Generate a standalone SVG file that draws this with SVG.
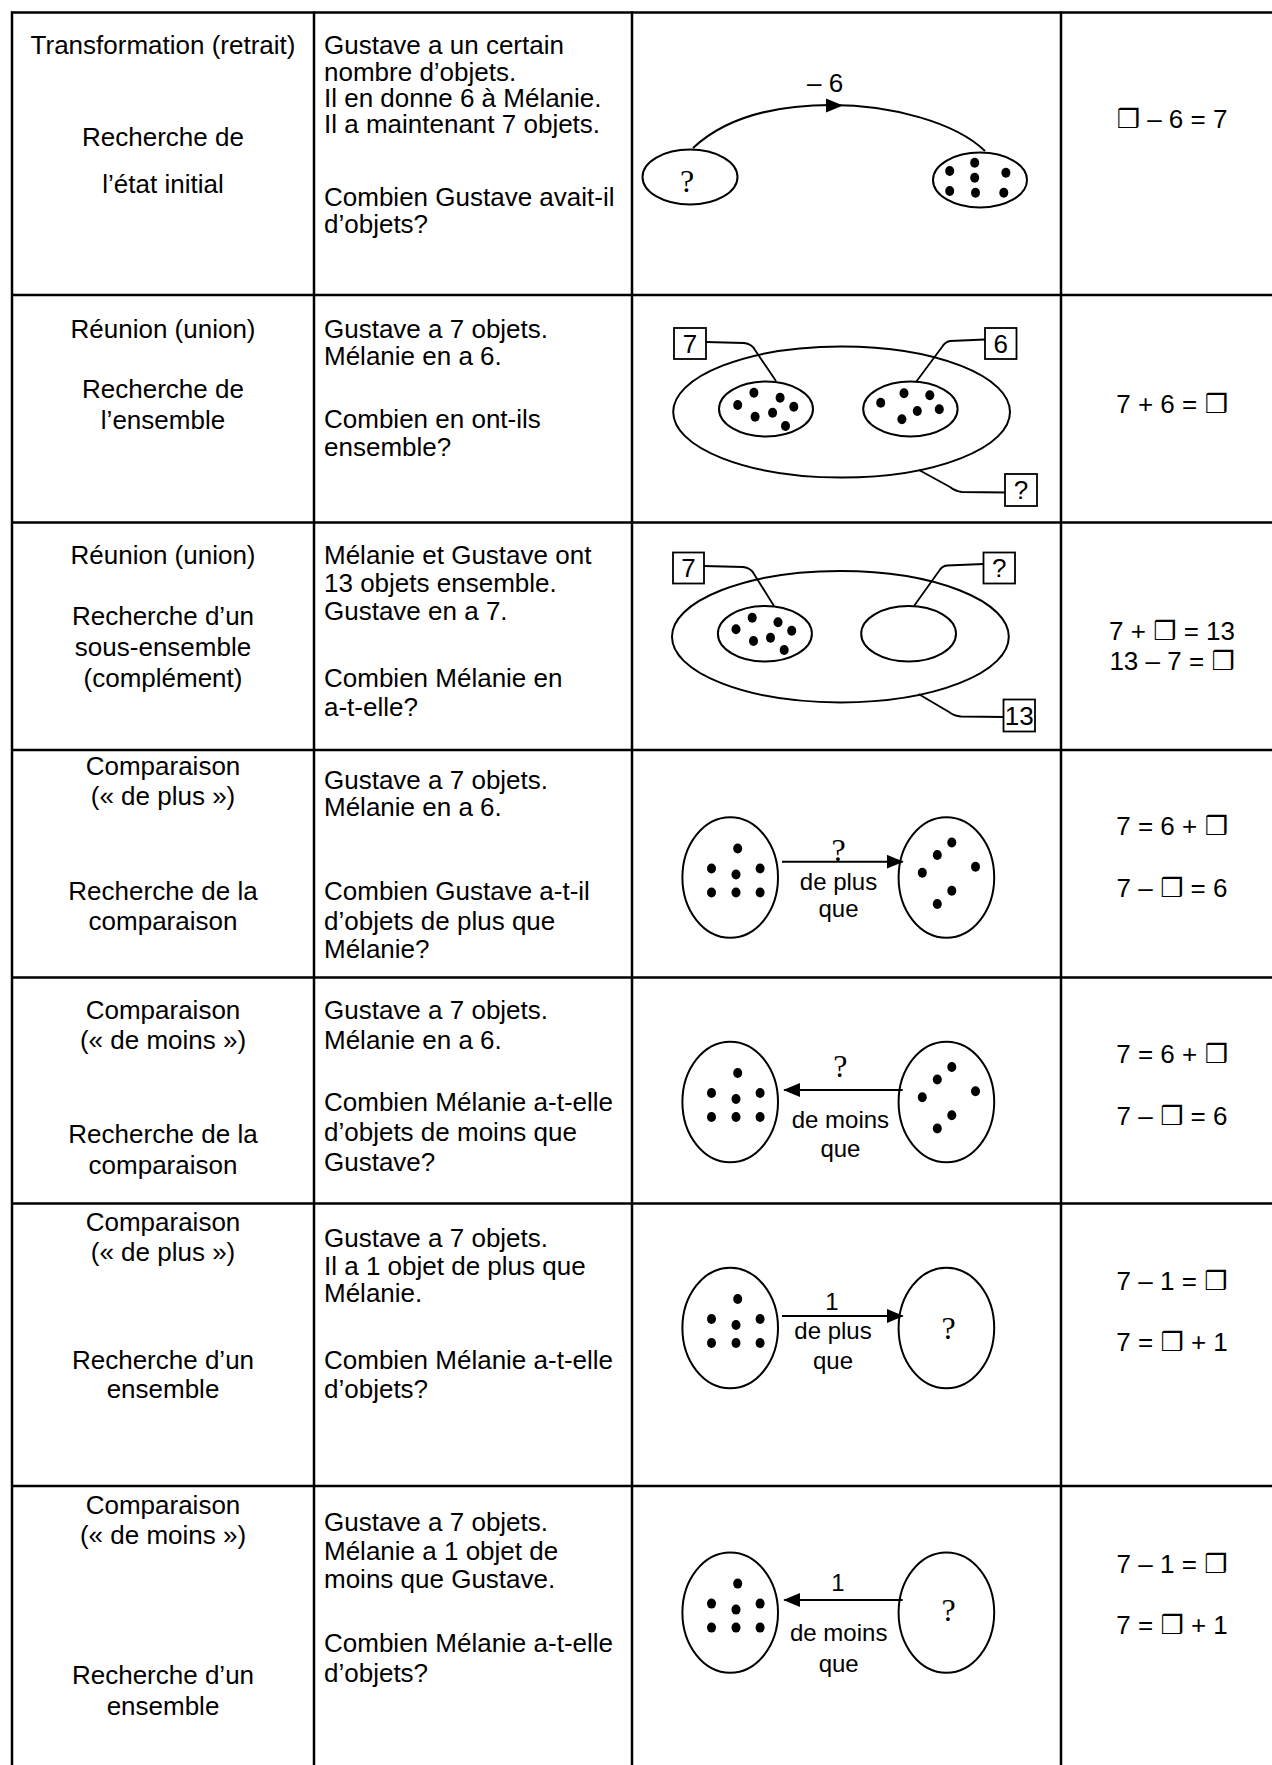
<svg xmlns="http://www.w3.org/2000/svg" width="1272" height="1765" viewBox="0 0 1272 1765">
  <style>
    .t { font-family: "Liberation Sans", Arial, sans-serif; font-size: 26px; fill: #000; }
    .c { text-anchor: middle; }
    .lbl { font-size: 24px; }
    .q { font-family: "Liberation Serif", "Times New Roman", serif; font-size: 32px; fill: #000; text-anchor: middle; }
    .bx { font-family: "DejaVu Sans", sans-serif; }
    .grid line { stroke: #000; stroke-width: 2.5; }
    .shape { fill: none; stroke: #000; stroke-width: 2; }
    .lead { fill: none; stroke: #000; stroke-width: 1.8; }
    .arrow { fill: none; stroke: #000; stroke-width: 2; marker-end: url(#head); }
    .dot { fill: #000; }
  </style>
  <defs>
    <marker id="head" markerUnits="userSpaceOnUse" markerWidth="17" markerHeight="14" refX="16" refY="7" orient="auto">
      <path d="M0,0 L17,7 L0,14 z" fill="#000"/>
    </marker>
    <!-- seven-dot set, reused in the comparison rows -->
    <g id="dots7">
      <ellipse class="dot" cx="7.5" cy="-29" rx="4.5" ry="5"/>
      <ellipse class="dot" cx="-18.7" cy="-9" rx="4.5" ry="5"/>
      <ellipse class="dot" cx="5.8" cy="-3" rx="4.5" ry="5"/>
      <ellipse class="dot" cx="29.9" cy="-9" rx="4.5" ry="5"/>
      <ellipse class="dot" cx="-18.7" cy="15" rx="4.5" ry="5"/>
      <ellipse class="dot" cx="5.8" cy="15" rx="4.5" ry="5"/>
      <ellipse class="dot" cx="29.9" cy="15" rx="4.5" ry="5"/>
    </g>
    <g id="dots6">
      <ellipse class="dot" cx="5.4" cy="-35" rx="4.5" ry="5"/>
      <ellipse class="dot" cx="-9.1" cy="-22.5" rx="4.5" ry="5"/>
      <ellipse class="dot" cx="29.1" cy="-10.8" rx="4.5" ry="5"/>
      <ellipse class="dot" cx="-24.1" cy="-4.8" rx="4.5" ry="5"/>
      <ellipse class="dot" cx="5.4" cy="13.2" rx="4.5" ry="5"/>
      <ellipse class="dot" cx="-9.1" cy="26.5" rx="4.5" ry="5"/>
    </g>
  </defs>
  <rect width="1272" height="1765" fill="#fff"/>

  <!-- table grid -->
  <g id="grid" class="grid">
    <line x1="11" y1="12.5" x2="1272" y2="12.5"/>
    <line x1="11" y1="295" x2="1272" y2="295"/>
    <line x1="11" y1="522.5" x2="1272" y2="522.5"/>
    <line x1="11" y1="750" x2="1272" y2="750"/>
    <line x1="11" y1="977.5" x2="1272" y2="977.5"/>
    <line x1="11" y1="1203.5" x2="1272" y2="1203.5"/>
    <line x1="11" y1="1486" x2="1272" y2="1486"/>
    <line x1="12" y1="11.5" x2="12" y2="1765"/>
    <line x1="314" y1="11.5" x2="314" y2="1765"/>
    <line x1="632" y1="11.5" x2="632" y2="1765"/>
    <line x1="1061" y1="11.5" x2="1061" y2="1765"/>
  </g>

  <!-- column 1: problem types -->
  <g id="types" class="t c">
    <text x="163" y="54">Transformation (retrait)</text>
    <text x="163" y="146">Recherche de</text>
    <text x="163" y="193">l’état initial</text>

    <text x="163" y="338">Réunion (union)</text>
    <text x="163" y="398">Recherche de</text>
    <text x="163" y="429">l’ensemble</text>

    <text x="163" y="564">Réunion (union)</text>
    <text x="163" y="625">Recherche d’un</text>
    <text x="163" y="656">sous-ensemble</text>
    <text x="163" y="687">(complément)</text>

    <text x="163" y="775">Comparaison</text>
    <text x="163" y="805">(« de plus »)</text>
    <text x="163" y="900">Recherche de la</text>
    <text x="163" y="930">comparaison</text>

    <text x="163" y="1019">Comparaison</text>
    <text x="163" y="1049">(« de moins »)</text>
    <text x="163" y="1143">Recherche de la</text>
    <text x="163" y="1174">comparaison</text>

    <text x="163" y="1231">Comparaison</text>
    <text x="163" y="1261">(« de plus »)</text>
    <text x="163" y="1369">Recherche d’un</text>
    <text x="163" y="1398">ensemble</text>

    <text x="163" y="1514">Comparaison</text>
    <text x="163" y="1544">(« de moins »)</text>
    <text x="163" y="1684">Recherche d’un</text>
    <text x="163" y="1715">ensemble</text>
  </g>

  <!-- column 2: word problems -->
  <g id="problems" class="t">
    <text x="324" y="54">Gustave a un certain</text>
    <text x="324" y="81">nombre d’objets.</text>
    <text x="324" y="107">Il en donne 6 à Mélanie.</text>
    <text x="324" y="133">Il a maintenant 7 objets.</text>
    <text x="324" y="206">Combien Gustave avait-il</text>
    <text x="324" y="233">d’objets?</text>

    <text x="324" y="338">Gustave a 7 objets.</text>
    <text x="324" y="365">Mélanie en a 6.</text>
    <text x="324" y="428">Combien en ont-ils</text>
    <text x="324" y="456">ensemble?</text>

    <text x="324" y="564">Mélanie et Gustave ont</text>
    <text x="324" y="592">13 objets ensemble.</text>
    <text x="324" y="620">Gustave en a 7.</text>
    <text x="324" y="687">Combien Mélanie en</text>
    <text x="324" y="716">a-t-elle?</text>

    <text x="324" y="789">Gustave a 7 objets.</text>
    <text x="324" y="816">Mélanie en a 6.</text>
    <text x="324" y="900">Combien Gustave a-t-il</text>
    <text x="324" y="930">d’objets de plus que</text>
    <text x="324" y="958">Mélanie?</text>

    <text x="324" y="1019">Gustave a 7 objets.</text>
    <text x="324" y="1049">Mélanie en a 6.</text>
    <text x="324" y="1111">Combien Mélanie a-t-elle</text>
    <text x="324" y="1141">d’objets de moins que</text>
    <text x="324" y="1171">Gustave?</text>

    <text x="324" y="1247">Gustave a 7 objets.</text>
    <text x="324" y="1275">Il a 1 objet de plus que</text>
    <text x="324" y="1302">Mélanie.</text>
    <text x="324" y="1369">Combien Mélanie a-t-elle</text>
    <text x="324" y="1398">d’objets?</text>

    <text x="324" y="1531">Gustave a 7 objets.</text>
    <text x="324" y="1560">Mélanie a 1 objet de</text>
    <text x="324" y="1588">moins que Gustave.</text>
    <text x="324" y="1652">Combien Mélanie a-t-elle</text>
    <text x="324" y="1682">d’objets?</text>
  </g>

  <!-- column 3: set diagrams -->
  <g id="diag-transformation">
    <ellipse class="shape" cx="690" cy="177" rx="47.5" ry="27.5"/>
    <text class="q" x="687" y="192">?</text>
    <ellipse class="shape" cx="980" cy="180" rx="47" ry="27.5"/>
    <ellipse class="dot" cx="949.7" cy="171" rx="4.5" ry="5"/>
    <ellipse class="dot" cx="974.7" cy="162.7" rx="4.5" ry="5"/>
    <ellipse class="dot" cx="1005.9" cy="172.7" rx="4.5" ry="5"/>
    <ellipse class="dot" cx="974.7" cy="177.7" rx="4.5" ry="5"/>
    <ellipse class="dot" cx="949.7" cy="191" rx="4.5" ry="5"/>
    <ellipse class="dot" cx="975.5" cy="192.7" rx="4.5" ry="5"/>
    <ellipse class="dot" cx="1003.8" cy="192.7" rx="4.5" ry="5"/>
    <text class="t" x="807" y="92">– 6</text>
  </g>

  <g id="diag-union-total">
    <ellipse class="shape" cx="841.6" cy="412" rx="168.4" ry="65.5"/>
    <ellipse class="shape" cx="766" cy="409" rx="47" ry="27.5"/>
    <ellipse class="shape" cx="910.4" cy="409" rx="47.2" ry="27.5"/>
    <ellipse class="dot" cx="753.9" cy="392.7" rx="4.5" ry="5"/>
    <ellipse class="dot" cx="780.1" cy="397.7" rx="4.5" ry="5"/>
    <ellipse class="dot" cx="737.7" cy="405" rx="4.5" ry="5"/>
    <ellipse class="dot" cx="793.8" cy="406.7" rx="4.5" ry="5"/>
    <ellipse class="dot" cx="772.6" cy="412.7" rx="4.5" ry="5"/>
    <ellipse class="dot" cx="755.1" cy="416.7" rx="4.5" ry="5"/>
    <ellipse class="dot" cx="785.5" cy="426" rx="4.5" ry="5"/>
    <ellipse class="dot" cx="904" cy="393.3" rx="4.5" ry="5"/>
    <ellipse class="dot" cx="929.8" cy="395.3" rx="4.5" ry="5"/>
    <ellipse class="dot" cx="880.7" cy="402.7" rx="4.5" ry="5"/>
    <ellipse class="dot" cx="917.3" cy="411" rx="4.5" ry="5"/>
    <ellipse class="dot" cx="939.3" cy="409.3" rx="4.5" ry="5"/>
    <ellipse class="dot" cx="901.9" cy="419.3" rx="4.5" ry="5"/>
    <rect class="lead" x="674" y="328" width="32" height="31"/>
    <text class="t c" x="690" y="353">7</text>
    <rect class="lead" x="985" y="328" width="31.5" height="31"/>
    <text class="t c" x="1000.7" y="353">6</text>
    <rect class="lead" x="1005" y="474" width="32" height="32"/>
    <text class="t c" x="1021" y="499">?</text>
  </g>

  <g id="diag-union-part">
    <ellipse class="shape" cx="840.4" cy="636.7" rx="168.4" ry="65.7"/>
    <ellipse class="shape" cx="764.9" cy="633.8" rx="47" ry="27.8"/>
    <ellipse class="shape" cx="908.6" cy="633.8" rx="47.4" ry="27.8"/>
    <ellipse class="dot" cx="752.2" cy="617.7" rx="4.5" ry="5"/>
    <ellipse class="dot" cx="778" cy="622.3" rx="4.5" ry="5"/>
    <ellipse class="dot" cx="736" cy="629.3" rx="4.5" ry="5"/>
    <ellipse class="dot" cx="791.7" cy="630.7" rx="4.5" ry="5"/>
    <ellipse class="dot" cx="770.5" cy="637.7" rx="4.5" ry="5"/>
    <ellipse class="dot" cx="753.5" cy="641" rx="4.5" ry="5"/>
    <ellipse class="dot" cx="784.2" cy="650" rx="4.5" ry="5"/>
    <rect class="lead" x="673" y="552.5" width="31" height="31"/>
    <text class="t c" x="688.5" y="577">7</text>
    <rect class="lead" x="983.5" y="552.5" width="31.5" height="31"/>
    <text class="t c" x="999.2" y="577">?</text>
    <rect class="lead" x="1003.5" y="699.5" width="31.5" height="32"/>
    <text class="t c" x="1019.2" y="725">13</text>
  </g>

  <g id="diag-more">
    <ellipse class="shape" cx="730.2" cy="877.5" rx="47.8" ry="60.2"/>
    <use href="#dots7" x="730.2" y="877.5"/>
    <ellipse class="shape" cx="946.4" cy="877.5" rx="47.8" ry="60.2"/>
    <use href="#dots6" x="946.4" y="877.5"/>
    <text class="q" x="838.5" y="861">?</text>
    <text class="t c lbl" x="838.5" y="890">de plus</text>
    <text class="t c lbl" x="838.5" y="917">que</text>
  </g>

  <g id="diag-less">
    <ellipse class="shape" cx="730.2" cy="1102" rx="47.8" ry="60.2"/>
    <use href="#dots7" x="730.2" y="1102"/>
    <ellipse class="shape" cx="946.4" cy="1102" rx="47.8" ry="60.2"/>
    <use href="#dots6" x="946.4" y="1102"/>
    <text class="q" x="840.4" y="1077">?</text>
    <text class="t c lbl" x="840.4" y="1128">de moins</text>
    <text class="t c lbl" x="840.4" y="1157">que</text>
  </g>

  <g id="diag-more-set">
    <ellipse class="shape" cx="730.2" cy="1328" rx="47.8" ry="60.2"/>
    <use href="#dots7" x="730.2" y="1328"/>
    <ellipse class="shape" cx="946.4" cy="1328" rx="47.8" ry="60.2"/>
    <text class="q" x="948.5" y="1339">?</text>
    <text class="t c lbl" x="832" y="1310">1</text>
    <text class="t c lbl" x="833" y="1339">de plus</text>
    <text class="t c lbl" x="833" y="1369">que</text>
  </g>

  <g id="diag-less-set">
    <ellipse class="shape" cx="730.2" cy="1612.6" rx="47.8" ry="60.2"/>
    <use href="#dots7" x="730.2" y="1612.6"/>
    <ellipse class="shape" cx="946.4" cy="1612.6" rx="47.8" ry="60.2"/>
    <text class="q" x="948.5" y="1621">?</text>
    <text class="t c lbl" x="838" y="1591">1</text>
    <text class="t c lbl" x="838.7" y="1641">de moins</text>
    <text class="t c lbl" x="838.7" y="1672">que</text>
  </g>

  <!-- connectors: arrows and label leaders -->
  <g id="connectors">
    <path class="shape" d="M693,148 C725,118 775,105 832,105 C890,105 955,122 985,151"/>
    <polygon points="843,105.5 826,98.5 826,112.5" fill="#000"/>

    <path class="lead" d="M706,342 L744,343 Q752,344 755,350 L776,381"/>
    <path class="lead" d="M985,339.5 L950,341 Q945,342 942,347 L916,382"/>
    <path class="lead" d="M1005,492.5 L962,492 Q955,491 950,487 L919,470"/>

    <path class="lead" d="M704,566 L743,567 Q751,568 754,574 L774,606"/>
    <path class="lead" d="M983.5,564 L947,565.5 Q942,566 939,571 L914,606"/>
    <path class="lead" d="M1003.5,717 L961,716.5 Q954,716 949,712 L918.5,694"/>

    <line class="arrow" x1="782" y1="861.7" x2="902.7" y2="861.7"/>
    <line class="arrow" x1="902.7" y1="1090" x2="784.2" y2="1090"/>
    <line class="arrow" x1="782" y1="1316" x2="902.7" y2="1316"/>
    <line class="arrow" x1="902.7" y1="1600" x2="784.2" y2="1600"/>
  </g>

  <!-- column 4: number sentences -->
  <g id="equations" class="t c">
    <text x="1172" y="128"><tspan class="bx">❒</tspan> – 6 = 7</text>
    <text x="1172" y="413">7 + 6 = <tspan class="bx">❒</tspan></text>
    <text x="1172" y="640">7 + <tspan class="bx">❒</tspan> = 13</text>
    <text x="1172" y="670">13 – 7 = <tspan class="bx">❒</tspan></text>
    <text x="1172" y="835">7 = 6 + <tspan class="bx">❒</tspan></text>
    <text x="1172" y="897">7 – <tspan class="bx">❒</tspan> = 6</text>
    <text x="1172" y="1063">7 = 6 + <tspan class="bx">❒</tspan></text>
    <text x="1172" y="1125">7 – <tspan class="bx">❒</tspan> = 6</text>
    <text x="1172" y="1290">7 – 1 = <tspan class="bx">❒</tspan></text>
    <text x="1172" y="1351">7 = <tspan class="bx">❒</tspan> + 1</text>
    <text x="1172" y="1573">7 – 1 = <tspan class="bx">❒</tspan></text>
    <text x="1172" y="1634">7 = <tspan class="bx">❒</tspan> + 1</text>
  </g>
</svg>
